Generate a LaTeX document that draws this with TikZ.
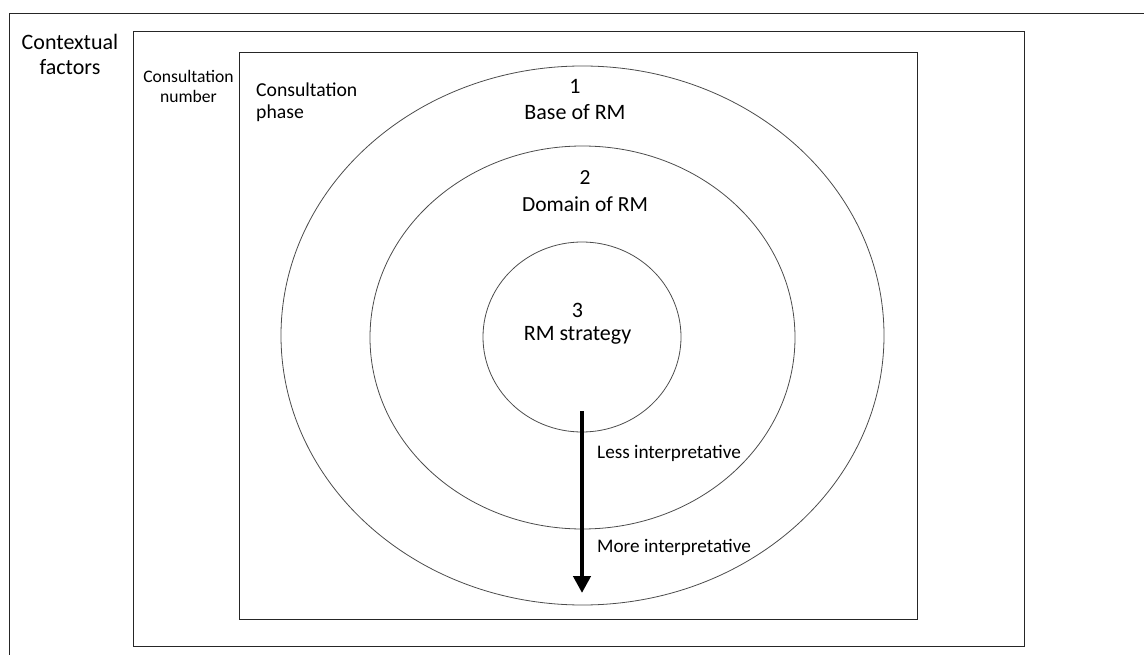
\documentclass[tikz,border=0pt]{standalone}
\usepackage{fontspec}
\setmainfont{Carlito}
\usetikzlibrary{arrows.meta}
\tikzset{
  frame/.style={draw=black!85, line width=0.9pt},
  ring/.style={draw=black!70, line width=0.8pt},
  lbl/.style={inner sep=0pt, anchor=base, font=\fontsize{21.5}{26}\selectfont, align=center},
  bigarrow/.style={line width=4.5pt, -{Triangle[width=17pt,length=17pt]}}
}
\begin{document}
\begin{tikzpicture}[x=1pt,y=-1pt]
\useasboundingbox (0,0) rectangle (1144,655);
\clip (0,0) rectangle (1144,655);
% frames
\draw[frame] (9,13) rectangle (1160,670);
\draw[frame] (133,31) rectangle (1024,646);
\draw[frame] (239,52) rectangle (917,619);
% rings
\draw[ring] (582.5,335.5) ellipse [x radius=301.5, y radius=269.5];
\draw[ring] (582.5,337.5) ellipse [x radius=212.5, y radius=191.5];
\draw[ring] (582,337) ellipse [x radius=99, y radius=95];
% labels (anchored at the baseline of the last line)
\node[lbl, font=\fontsize{22}{25}\selectfont] (ctx) at (70,75) {Contextual\\factors};
\node[lbl, font=\fontsize{17.6}{20}\selectfont] (cnum) at (188.5,103) {Consultation\\number};
\node[lbl, align=left, anchor=base west, font=\fontsize{19.7}{21.5}\selectfont] (cph) at (256,118.5) {Consultation\\phase};
\node[lbl, font=\fontsize{22}{26}\selectfont] (base) at (575,120) {1\\Base of RM};
\node[lbl, font=\fontsize{21.5}{27}\selectfont] (dom) at (585,212) {2\\Domain of RM};
\node[lbl, font=\fontsize{22}{23.5}\selectfont] (strat) at (577.5,340.5) {3\\RM strategy};
\node[lbl, anchor=base west, font=\fontsize{19.2}{23}\selectfont] (less) at (597,458) {Less interpretative};
\node[lbl, anchor=base west, font=\fontsize{19.2}{23}\selectfont] (more) at (597,552) {More interpretative};
% arrow
\coordinate (astart) at (582,411);
\coordinate (aend) at (582,593);
\draw[bigarrow] (astart) -- (aend);
\end{tikzpicture}
\end{document}
